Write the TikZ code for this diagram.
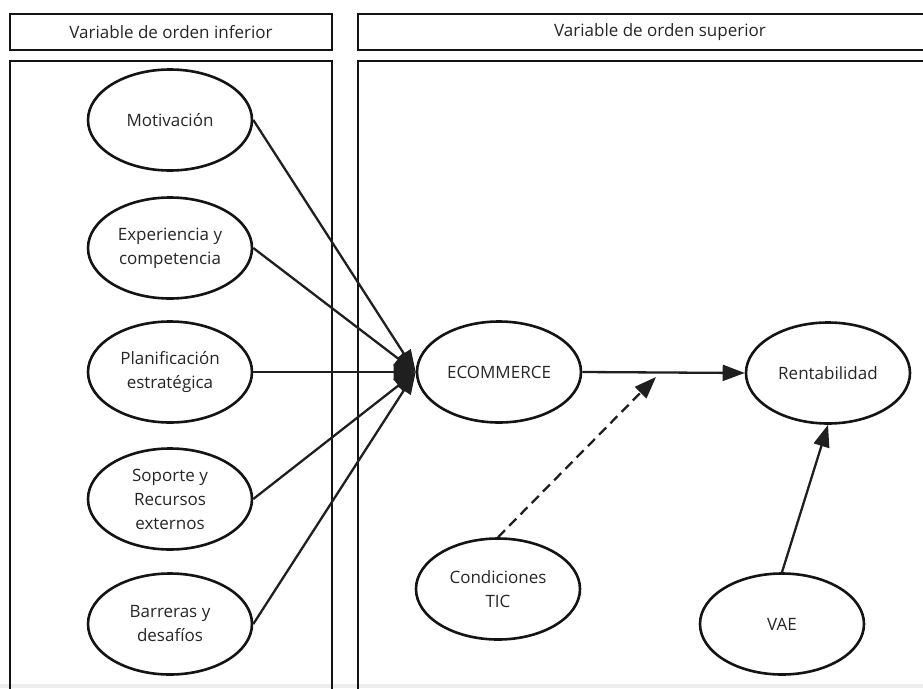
\documentclass[tikz,border=0pt]{standalone}
\usepackage{fontspec}
\setmainfont{Open Sans}
\usetikzlibrary{arrows.meta,shapes.geometric}
\begin{document}
\begin{tikzpicture}[x=1pt,y=-1pt,
  font=\fontsize{17}{24}\selectfont,
  frame/.style={draw=black!92, line width=2.6pt},
  var/.style={draw=black!92, line width=2.6pt, ellipse, minimum width=164pt, minimum height=101pt, align=center, inner sep=0pt, text=black!85},
  lbl/.style={text=black!85, inner sep=0pt},
  conn/.style={draw=black!88, line width=2.3pt, -{Triangle[length=22pt,width=16pt]}},
  dconn/.style={conn, dash pattern=on 10pt off 6pt}
]
\useasboundingbox (0,0) rectangle (923,688);
\clip (0,0) rectangle (923,688);
\fill[black!7] (0,684) rectangle (923,688);
% frames
\draw[frame] (10,14) rectangle (332,50);
\draw[frame] (10,61) rectangle (332,700);
\draw[frame] (358,14) rectangle (965,50);
\draw[frame] (358,61) rectangle (965,700);
\node[lbl] (hl) at (171,32) {Variable de orden inferior};
\node[lbl] (hr) at (660,32) {Variable de orden superior};
% left variables
\node[var] (mot) at (170,120) {Motivación};
\node[var] (exp) at (170,248) {Experiencia y\\competencia};
\node[var] (pla) at (170,372) {Planificación\\estratégica};
\node[var] (sop) at (170,499) {Soporte y\\Recursos\\externos};
\node[var] (bar) at (170,624) {Barreras y\\desafíos};
% right variables
\node[var] (eco) at (499,372) {ECOMMERCE};
\node[var] (ren) at (828,373) {Rentabilidad};
\node[var] (tic) at (498,589) {Condiciones\\TIC};
\node[var] (vae) at (782,624) {VAE};
\coordinate (mid) at (656,377);
% connectors
\draw[conn] (mot.east) -- (eco.west);
\draw[conn] (exp.east) -- (eco.west);
\draw[conn] (pla.east) -- (eco.west);
\draw[conn] (sop.east) -- (eco.west);
\draw[conn] (bar.east) -- (eco.west);
\draw[conn] (eco.east) -- (ren.west);
\draw[dconn] (tic.north) -- (mid);
\draw[conn] (vae.north) -- (ren.south);
\end{tikzpicture}
\end{document}
